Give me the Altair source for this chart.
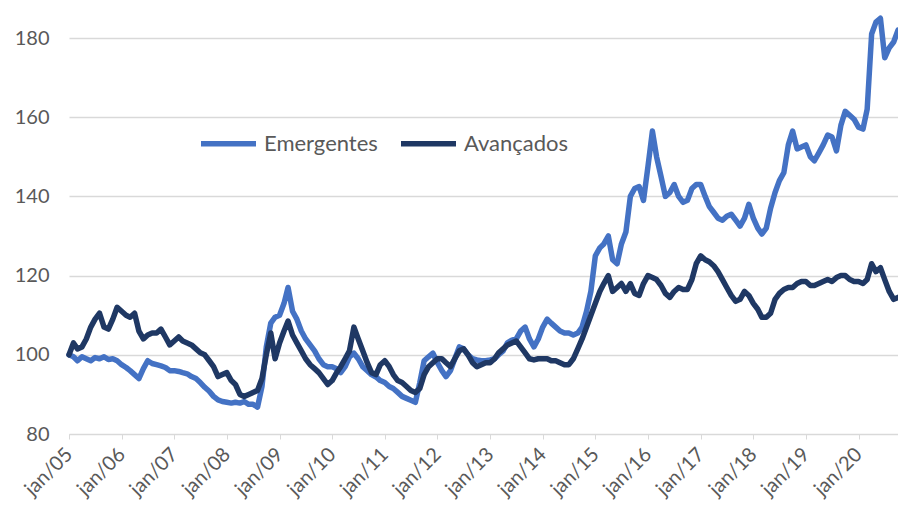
import altair as alt
import pandas as pd

# monthly readings, Jan 2005 .. Oct 2020
start_month = "2005-01-01"
emergentes = [
    100, 99.5, 98.5, 99.5, 99, 98.5, 99.3, 99, 99.5, 98.8, 99, 98.5,
    97.5, 96.8, 96, 95, 94, 96.5, 98.5, 97.8, 97.5, 97.2, 96.8, 96,
    96, 95.8, 95.5, 95.2, 94.5, 94, 93, 91.8, 90.8, 89.5, 88.6, 88.2,
    88, 87.8, 88, 87.8, 88.2, 87.5, 87.5, 86.8, 92, 102, 108, 109.5,
    110, 113, 117, 111, 109, 106, 104, 102.5, 101, 99, 97.5, 97,
    97, 96.5, 95.5, 97, 99.5, 100.4, 99, 97, 96, 95, 94.4, 93.5,
    93, 92, 91.5, 90.5, 89.5, 89, 88.5, 88, 93, 98.5, 99.5, 100.4,
    98, 96, 94.5, 96, 99, 102, 101.5, 100, 99, 98.7, 98.5, 98.5,
    98.7, 99, 100, 101, 103, 103.7, 104, 106, 107, 104, 102, 104,
    107, 109, 108, 107, 106, 105.5, 105.5, 105, 105.5, 107, 111, 116,
    125, 127, 128, 130, 124, 123, 128, 131, 140, 142, 142.5, 139,
    147.5, 156.5, 150, 145, 140, 141, 143, 140, 138.5, 139, 142, 143,
    143, 140, 137.5, 136, 134.5, 134, 135, 135.5, 134, 132.5, 134.5, 138,
    134.5, 132, 130.5, 132, 137, 141, 144, 146, 153, 156.5, 152, 152.5,
    153, 150, 149, 151, 153, 155.5, 155, 151.5, 158, 161.5, 160.5, 159.5,
    157.5, 157, 162, 181, 184, 185, 175, 177.5, 179, 182,
]
avancados = [
    100, 103, 101.5, 102, 104, 107, 109, 110.5, 107, 106.5, 109, 112,
    111, 110, 109.5, 110.5, 106, 104, 105, 105.5, 105.5, 106.5, 104.5, 102.5,
    103.5, 104.5, 103.5, 103, 102.5, 101.5, 100.5, 100, 98.5, 97, 94.5, 95,
    95.5, 93.5, 92.5, 90, 89.5, 90, 90.5, 91, 94, 100, 105.5, 99,
    103, 106, 108.5, 105, 103, 101, 99, 97.5, 96.5, 95.5, 94, 92.5,
    93.5, 95.5, 97, 99, 101, 107, 104, 101, 98, 95.5, 95, 97.5,
    98.5, 97, 95, 93.5, 93, 92, 91, 90.5, 91.5, 95, 97, 98,
    99, 99, 98, 97, 99, 101, 101.5, 100, 98, 97, 97.5, 98,
    98, 99, 100.5, 101.5, 102.5, 103, 103.5, 102, 100.5, 99, 98.7, 99,
    99, 99, 98.5, 98.5, 98, 97.5, 97.5, 99, 101.5, 104, 107, 110,
    113, 116, 118, 120, 116, 117, 118, 116, 118, 115.5, 115, 118,
    120, 119.5, 119, 117.5, 115.5, 114.5, 116, 117, 116.5, 116.5, 119, 123,
    125, 124, 123.5, 122.5, 121, 119, 117, 115, 113.5, 114, 116, 115,
    113, 111.5, 109.5, 109.5, 110.5, 114, 115.5, 116.5, 117, 117, 118, 118.5,
    118.5, 117.5, 117.5, 118, 118.5, 119, 118.5, 119.5, 120, 120, 119, 118.5,
    118.5, 118, 119, 123, 121, 122, 119, 116, 114, 114.5,
]
series_names = ["Emergentes", "Avançados"]
series_colors = ["#4472C4", "#1F3864"]
y_ticks = [80, 100, 120, 140, 160, 180]
x_tick_years = list(range(2005, 2021))

dates = pd.date_range(start_month, periods=len(emergentes), freq="MS")
df = pd.concat([
    pd.DataFrame({"date": dates, "value": emergentes, "serie": series_names[0]}),
    pd.DataFrame({"date": dates, "value": avancados, "serie": series_names[1]}),
])

FONT = "Lato"
GRAY = "#595959"

x_values = [alt.DateTime(year=y, month=1, date=1) for y in x_tick_years]

chart = alt.Chart(df).mark_line(strokeWidth=5.5, strokeJoin="round", strokeCap="round").encode(
    x=alt.X(
        "date:T",
        scale=alt.Scale(domain=[alt.DateTime(year=2005, month=1, date=1),
                                alt.DateTime(year=2020, month=10, date=1)], nice=False),
        axis=alt.Axis(
            values=x_values,
            labelExpr="'jan/' + timeFormat(datum.value, '%y')",
            labelAngle=-45, labelAlign="right", labelBaseline="middle",
            labelPadding=12, tickSize=5, tickColor="#D9D9D9", domainColor="#D9D9D9",
            grid=False, title=None, labelFont=FONT, labelFontSize=20,
            labelColor=GRAY, labelOverlap=False, labelFlush=False,
        ),
    ),
    y=alt.Y(
        "value:Q",
        scale=alt.Scale(domain=[80, 189.6], nice=False, zero=False),
        axis=alt.Axis(
            values=y_ticks, title=None, domain=False, ticks=False,
            gridColor="#D9D9D9", gridWidth=1.3, labelPadding=20,
            labelFont=FONT, labelFontSize=20, labelColor=GRAY,
        ),
    ),
    color=alt.Color(
        "serie:N",
        scale=alt.Scale(domain=series_names, range=series_colors),
        legend=alt.Legend(
            title=None, orient="none", direction="horizontal",
            legendX=129, legendY=113, symbolType="stroke",
            symbolSize=3025, symbolStrokeWidth=5.5, labelOffset=5,
            columnPadding=12, labelFont=FONT, labelFontSize=22,
            labelColor=GRAY, padding=0,
        ),
    ),
).properties(
    width=829, height=434,
    autosize=alt.AutoSizeParams(type="none"),
    padding={"left": 69, "top": 0, "right": 0, "bottom": 79},
).configure_view(stroke=None)

chart.save("out.html", embed_options={"renderer": "svg", "actions": False})
